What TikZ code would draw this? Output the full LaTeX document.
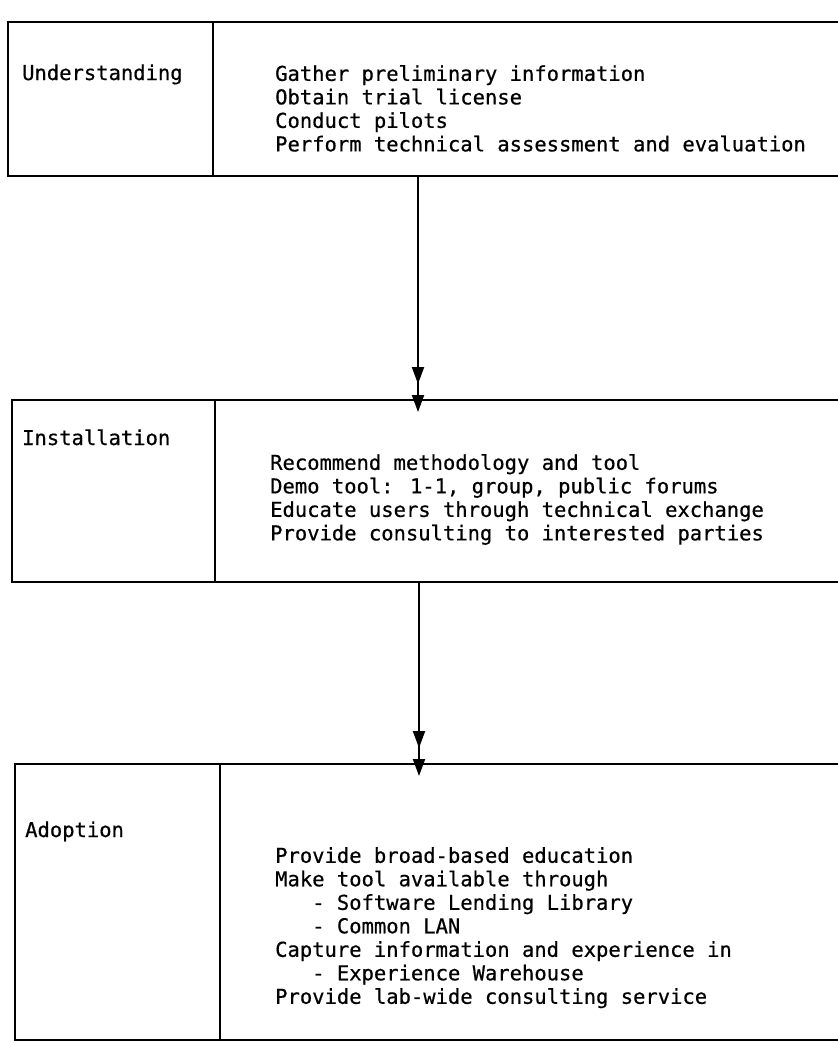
\documentclass[tikz,border=0pt]{standalone}
\usepackage{fontspec}
\newfontfamily\chartfont[FakeBold=0.6]{DejaVu Sans Mono}
\usetikzlibrary{arrows.meta,positioning}

\begin{document}
\begin{tikzpicture}[x=1pt, y=-1pt,
  every node/.style={font=\chartfont\fontsize{20.5}{23.5}\selectfont},
  cell/.style={draw, line width=2.4pt, anchor=north west, inner sep=0pt, outer sep=0pt},
  phase/.style={anchor=base west, inner sep=0pt},
  steps/.style={anchor=north west, align=left, inner sep=0pt},
  flow/.style={line width=2pt,
    -{Triangle[width=12pt,length=17pt,sep=11pt]Triangle[width=12pt,length=17pt]}}]
  \useasboundingbox (0,0) rectangle (838,1042);
  \def\ind{\phantom{aaa}}
  \node[cell, minimum width=205pt, minimum height=154pt] (underL) at (8,22) {};
  \node[cell, minimum width=640pt, minimum height=154pt, right=0pt of underL] (underR) {};
  \node[phase] (underT) at (22,80) {Understanding};
  \node[steps] (underS) at (275,65) {Gather preliminary information\\
    Obtain trial license\\
    Conduct pilots\\
    Perform technical assessment and evaluation};
  \node[cell, minimum width=203pt, minimum height=182pt] (installL) at (12,400) {};
  \node[cell, minimum width=640pt, minimum height=182pt, right=0pt of installL] (installR) {};
  \node[phase] (installT) at (22,445) {Installation};
  \node[steps] (installS) at (270,454) {Recommend methodology and tool\\
    Demo tool: 1-1, group, public forums\\
    Educate users through technical exchange\\
    Provide consulting to interested parties};
  \node[cell, minimum width=205pt, minimum height=276pt] (adoptL) at (15,764) {};
  \node[cell, minimum width=640pt, minimum height=276pt, right=0pt of adoptL] (adoptR) {};
  \node[phase] (adoptT) at (25,837) {Adoption};
  \node[steps] (adoptS) at (275,847) {Provide broad-based education\\
    Make tool available through\\
    \ind- Software Lending Library\\
    \ind- Common LAN\\
    Capture information and experience in\\
    \ind- Experience Warehouse\\
    Provide lab-wide consulting service};
  \coordinate (a1) at (418,0);
  \coordinate (a2) at (419,0);
  \draw[flow] (a1 |- underL.south) -- ([yshift=-12pt]a1 |- installL.north);
  \draw[flow] (a2 |- installL.south) -- ([yshift=-12pt]a2 |- adoptL.north);
\end{tikzpicture}
\end{document}
